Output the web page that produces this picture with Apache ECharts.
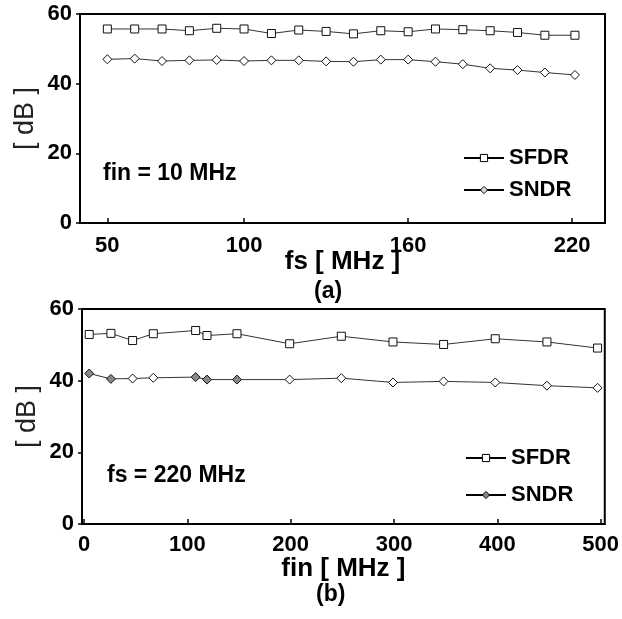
<!DOCTYPE html>
<html>
<head>
<meta charset="utf-8">
<script src="https://cdn.jsdelivr.net/npm/echarts@6/dist/echarts.min.js"></script>
<style>
  html, body { margin: 0; padding: 0; background: #fff; }
  #chart { width: 622px; height: 619px; }
</style>
</head>
<body>
<div id="chart"></div>
<script>
// (a) sweep of sampling frequency at fin = 10 MHz
const fsValues = [50, 60, 70, 80, 90, 100, 110, 120, 130, 140, 150, 160, 170, 180, 190, 200, 210, 221];
const sfdrA = [55.7, 55.7, 55.7, 55.2, 55.9, 55.7, 54.4, 55.4, 55.0, 54.3, 55.2, 54.9, 55.7, 55.5, 55.2, 54.7, 53.9, 53.9];
const sndrA = [47.0, 47.2, 46.5, 46.7, 46.8, 46.5, 46.7, 46.7, 46.4, 46.3, 46.9, 46.9, 46.3, 45.6, 44.4, 43.9, 43.2, 42.5];

// (b) sweep of input frequency at fs = 220 MHz
const finValues = [5, 26, 47, 67, 108, 119, 148, 199, 249, 299, 348, 398, 448, 497];
const sfdrB = [52.9, 53.2, 51.2, 53.1, 54.0, 52.6, 53.1, 50.3, 52.4, 50.8, 50.1, 51.7, 50.8, 49.1];
const sndrB = [42.0, 40.5, 40.6, 40.8, 41.0, 40.3, 40.3, 40.3, 40.7, 39.5, 39.8, 39.5, 38.6, 38.0];

// tick labels
const fsTicks = [50, 100, 160, 220];
const finTicks = [0, 100, 200, 300, 400, 500];

const FONT = 'Liberation Sans, Arial, sans-serif';
const zip = (xs, ys) => xs.map((x, i) => [x, ys[i]]);

// SNDR points in (b) drawn with a shaded fill
const shadedB = new Set([0, 1, 4, 5, 6]);

function xAxisOf(gridIndex, min, max, ticks, name, nameGap, margin) {
  return {
    type: 'value', gridIndex, min, max,
    name, nameLocation: 'middle', nameGap, nameMoveOverlap: false,
    nameTextStyle: { fontFamily: FONT, fontWeight: 'bold', fontSize: 26, color: '#000' },
    axisLine: { show: true, onZero: false, lineStyle: { color: '#000', width: 2 } },
    axisTick: { show: true, inside: true, length: 5, customValues: ticks, lineStyle: { color: '#000', width: 1.5 } },
    axisLabel: { customValues: ticks, margin, fontFamily: FONT, fontWeight: 'bold', fontSize: 22, color: '#000' },
    splitLine: { show: false }
  };
}

function yAxisOf(gridIndex) {
  return {
    type: 'value', gridIndex, min: 0, max: 60, interval: 20,
    name: '[ dB ]', nameLocation: 'middle', nameGap: 41, nameMoveOverlap: false,
    nameTextStyle: { fontFamily: FONT, fontSize: 27, color: '#222' },
    axisLine: { show: true, onZero: false, lineStyle: { color: '#000', width: 2 } },
    axisTick: { show: true, length: 4, lineStyle: { color: '#000', width: 1.5 } },
    axisLabel: { margin: 8, fontFamily: FONT, fontWeight: 'bold', fontSize: 22, color: '#000' },
    splitLine: { show: false }
  };
}

function lineSeries(name, idx, data, symbol, fill) {
  return {
    name, type: 'line', xAxisIndex: idx, yAxisIndex: idx,
    data, symbol, symbolSize: symbol === 'rect' ? 8 : 9,
    lineStyle: { color: '#333', width: 1 },
    itemStyle: { color: fill, borderColor: '#111', borderWidth: 1 },
    animation: false
  };
}

const legendText = { fontFamily: FONT, fontWeight: 'bold', fontSize: 22, color: '#000' };
const noteText = { fontFamily: FONT, fontWeight: 'bold', fontSize: 23, color: '#000' };

const option = {
  backgroundColor: '#fff',
  animation: false,
  grid: [
    { left: 80, top: 14, width: 525, height: 209, show: true, borderColor: '#000', borderWidth: 2 },
    { left: 82, top: 309, width: 523, height: 215, show: true, borderColor: '#000', borderWidth: 2 }
  ],
  xAxis: [
    xAxisOf(0, 40, 232, fsTicks, 'fs [ MHz ]', 26, 12),
    xAxisOf(1, -2, 504, finTicks, 'fin [ MHz ]', 32, 10)
  ],
  yAxis: [yAxisOf(0), yAxisOf(1)],
  title: [
    { text: 'fin = 10 MHz', left: 103, top: 162, padding: 0, textStyle: noteText },
    { text: 'fs = 220 MHz', left: 107, top: 464, padding: 0, textStyle: noteText },
    { text: '(a)', left: 314, top: 280, padding: 0, textStyle: noteText },
    { text: '(b)', left: 316, top: 583, padding: 0, textStyle: noteText }
  ],
  legend: [
    {
      orient: 'vertical', left: 463, top: 147, padding: 0,
      itemWidth: 40, itemHeight: 9, itemGap: 10, textStyle: legendText,
      lineStyle: { color: '#000', width: 2 },
      selectedMode: false,
      data: [
        { name: 'SFDR', itemStyle: { color: '#fff', borderColor: '#000', borderWidth: 1 } },
        { name: 'SNDR', itemStyle: { color: '#ddd', borderColor: '#000', borderWidth: 1 } }
      ]
    },
    {
      orient: 'vertical', left: 465, top: 447, padding: 0,
      itemWidth: 40, itemHeight: 9, itemGap: 15, textStyle: legendText,
      lineStyle: { color: '#000', width: 2 },
      selectedMode: false,
      data: [
        { name: 'SFDR', itemStyle: { color: '#fff', borderColor: '#000', borderWidth: 1 } },
        { name: 'SNDR', itemStyle: { color: '#888', borderColor: '#000', borderWidth: 1 } }
      ]
    }
  ],
  series: [
    lineSeries('SFDR', 0, zip(fsValues, sfdrA), 'rect', '#fff'),
    lineSeries('SNDR', 0, zip(fsValues, sndrA), 'diamond', '#fff'),
    lineSeries('SFDR', 1, zip(finValues, sfdrB), 'rect', '#fff'),
    lineSeries('SNDR', 1, zip(finValues, sndrB), 'diamond', p => shadedB.has(p.dataIndex) ? '#888' : '#fff')
  ]
};

const chart = echarts.init(document.getElementById('chart'), null, { renderer: 'canvas' });
chart.setOption(option);
</script>
</body>
</html>
